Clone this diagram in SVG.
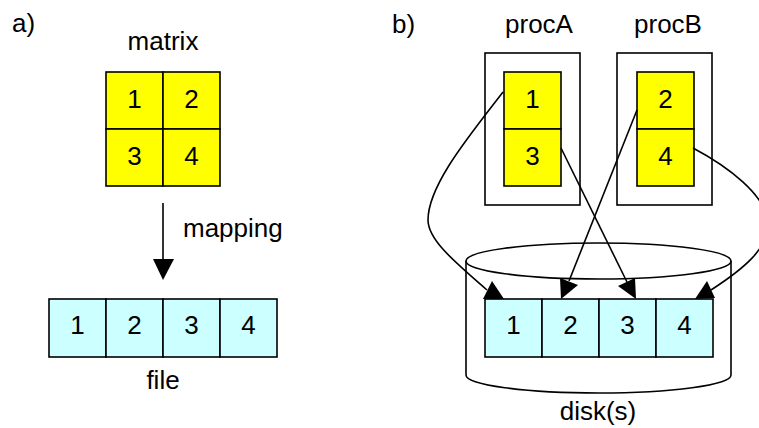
<svg xmlns="http://www.w3.org/2000/svg" width="759" height="428" viewBox="0 0 759 428">
<style>
text{font-family:"Liberation Sans",Arial,sans-serif;font-size:26px;fill:#000}
.m{text-anchor:middle}
.y{fill:#FFFF00;stroke:#000;stroke-width:1.6}
.c{fill:#CCFFFF;stroke:#000;stroke-width:1.6}
.b{fill:none;stroke:#000;stroke-width:1.6}
.w{fill:#fff;stroke:#000;stroke-width:1.6}
.ln{fill:none;stroke:#000;stroke-width:1.6}
.hd{fill:#000;stroke:none}
</style>
<rect width="759" height="428" fill="#fff"/>
<text x="12" y="32">a)</text>
<text x="392" y="33">b)</text>

<g id="matrix">
<text class="m" x="163" y="50">matrix</text>
<rect class="y" x="106" y="72" width="57" height="57"/>
<rect class="y" x="163" y="72" width="57" height="57"/>
<rect class="y" x="106" y="129" width="57" height="57"/>
<rect class="y" x="163" y="129" width="57" height="57"/>
<text class="m" x="134.5" y="108">1</text>
<text class="m" x="191.5" y="108">2</text>
<text class="m" x="134.5" y="165">3</text>
<text class="m" x="191.5" y="165">4</text>
</g>

<g id="file">
<rect class="c" x="49" y="299" width="57" height="58"/>
<rect class="c" x="106" y="299" width="57" height="58"/>
<rect class="c" x="163" y="299" width="57" height="58"/>
<rect class="c" x="220" y="299" width="57" height="58"/>
<text class="m" x="77.5" y="334">1</text>
<text class="m" x="134.5" y="334">2</text>
<text class="m" x="191.5" y="334">3</text>
<text class="m" x="248.5" y="334">4</text>
<text class="m" x="163" y="389">file</text>
</g>

<g id="procA">
<text class="m" x="539" y="33">procA</text>
<rect class="b" x="485" y="53" width="95" height="152"/>
<rect class="y" x="504" y="72" width="57" height="57"/>
<rect class="y" x="504" y="129" width="57" height="57"/>
<text class="m" x="532.5" y="108">1</text>
<text class="m" x="532.5" y="165">3</text>
</g>

<g id="procB">
<text class="m" x="668" y="33">procB</text>
<rect class="b" x="617" y="53" width="95" height="152"/>
<rect class="y" x="637" y="72" width="57" height="57"/>
<rect class="y" x="637" y="129" width="57" height="57"/>
<text class="m" x="665.5" y="108">2</text>
<text class="m" x="665.5" y="165">4</text>
</g>

<g id="disk">
<path class="w" d="M466,261 V375 A132.5,18 0 0 0 731,375 V261"/>
<ellipse class="w" cx="598.5" cy="261" rx="132.5" ry="18"/>
<rect class="c" x="485" y="299" width="57" height="58"/>
<rect class="c" x="542" y="299" width="57" height="58"/>
<rect class="c" x="599" y="299" width="57" height="58"/>
<rect class="c" x="656" y="299" width="57" height="58"/>
<text class="m" x="513.5" y="334">1</text>
<text class="m" x="570.5" y="334">2</text>
<text class="m" x="627.5" y="334">3</text>
<text class="m" x="684.5" y="334">4</text>
<text class="m" x="598" y="420">disk(s)</text>
</g>

<g id="connectors">
<line class="ln" x1="163" y1="203" x2="163" y2="260"/>
<polygon class="hd" points="153,259 174,259 163,280"/>
<text x="183" y="237">mapping</text>

<path class="ln" d="M503,92 C470,135 428,185 428,220 C428,240 455,262 487,290"/>
<polygon class="hd" points="492,281 483,299 504,299"/>

<line class="ln" x1="637" y1="110" x2="569" y2="281"/>
<polygon class="hd" points="560,278 578,285 561,299"/>

<line class="ln" x1="561" y1="148" x2="627" y2="282"/>
<polygon class="hd" points="618,286 635,278 636,299"/>

<path class="ln" d="M693,148 C725,165 768,195 768,225 C768,248 745,268 711,290"/>
<polygon class="hd" points="707,281 715,298 695,299"/>
</g>
</svg>
